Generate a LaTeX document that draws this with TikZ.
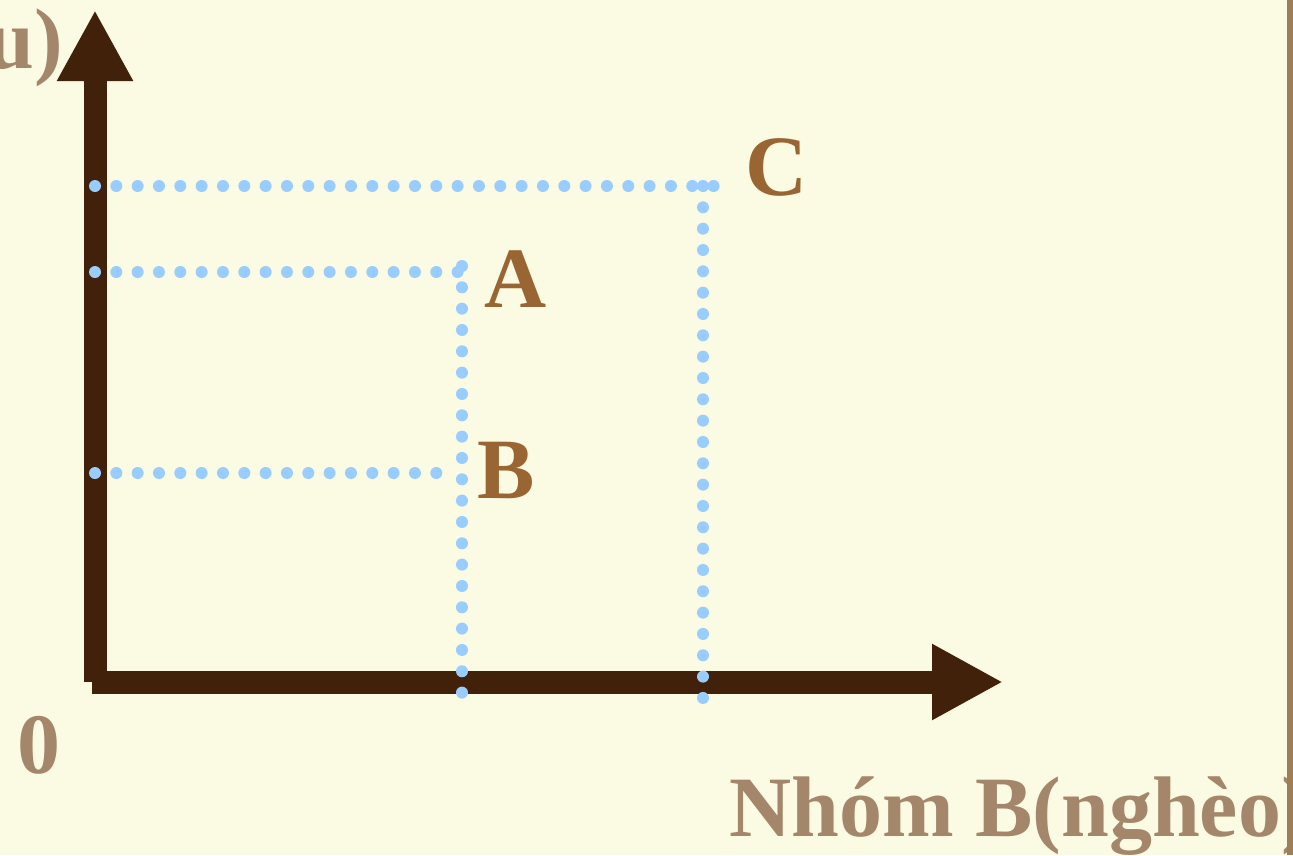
\documentclass[tikz,border=0pt]{standalone}
\usepackage{fontspec}
\setmainfont{Liberation Serif}
\usetikzlibrary{arrows.meta}
\definecolor{cbg}{HTML}{FBFAE2}
\definecolor{cax}{HTML}{42210B}
\definecolor{cdot}{HTML}{99CCFF}
\definecolor{cpt}{HTML}{996633}
\definecolor{clab}{HTML}{A4876A}
\definecolor{cedge}{HTML}{9E7E58}

\begin{document}
\begin{tikzpicture}[x=1pt, y=-1pt,
  axis/.style={cax, line width=23pt, -{Triangle[length=71pt, width=71pt]}},
  guide/.style={cdot, line width=12pt, line cap=round, dash pattern=on 0pt off 21.33pt},
  pt/.style={cpt, inner sep=0pt, font=\fontsize{86}{86}\selectfont\bfseries},
  lab/.style={clab, inner sep=0pt, font=\fontsize{86}{86}\selectfont\bfseries}
]
\def\xo{95}
\def\yo{682}
\def\xa{462}
\def\xc{703}
\def\yc{186}
\def\ya{272}
\def\yb{473}
% background
\useasboundingbox (0,0) rectangle (1293,855);
\fill[cbg] (0,0) rectangle (1293,855);
% axes
\draw[axis] (\xo,\yo) -- (\xo,10);
\draw[axis] (92,\yo) -- (1003,\yo);
% guides
\draw[guide] (\xo,\yc) -- (714,\yc);
\draw[guide] (\xc,\yc) -- (\xc,699);
\draw[guide] (\xo,\ya) -- (\xa,\ya);
\draw[guide] (\xa,266) -- (\xa,694);
\draw[guide] (\xo,\yb) -- (450,\yb);
% labels
\node[pt, anchor=base west] (C) at (745,195) {C};
\node[pt, anchor=base west] (A) at (484,307) {A};
\node[pt, anchor=base west] (B) at (477,498) {B};
\node[lab, anchor=base west] (O) at (17,773) {0};
\node[lab, anchor=base west] (xlab) at (729,836) {Nhóm B(nghèo)};
\node[lab, anchor=base east] (ylab) at (63,68) {u)};
\fill[cedge] (1287,0) rectangle (1293,855);
\end{tikzpicture}
\end{document}
